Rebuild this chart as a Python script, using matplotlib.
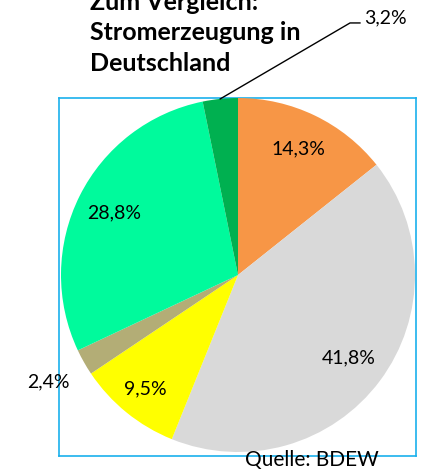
import numpy as np
import matplotlib
matplotlib.use('Agg')
import matplotlib.pyplot as plt

plt.rcParams['font.family'] = ['Lato', 'DejaVu Sans']

# Anteile an der Stromerzeugung (in %), im Uhrzeigersinn ab 12 Uhr
anteile = [14.3, 41.8, 9.5, 2.4, 28.8, 3.2]
farben = ['#F79646', '#D9D9D9', '#FFFF00', '#B3AD76', '#00FA9C', '#00B050']
titel = 'Zum Vergleich:\nStromerzeugung in\nDeutschland'
quelle = 'Quelle: BDEW'

W, H = 430, 474
fig = plt.figure(figsize=(W / 100, H / 100), dpi=100)

# Rahmen in Pixeln
x0, x1, y0, y1 = 59, 416, 98, 456
cx, cy, r = 238, 275, 177
ax = fig.add_axes([x0 / W, 1 - y1 / H, (x1 - x0) / W, (y1 - y0) / H])
ax.pie(anteile, colors=farben, startangle=90, counterclock=False,
       wedgeprops=dict(linewidth=0))
ax.set_xlim((x0 - cx) / r, (x1 - cx) / r)
ax.set_ylim((cy - y1) / r, (cy - y0) / r)
ax.set_aspect('auto')
ax.set_frame_on(True)
for s in ax.spines.values():
    s.set_visible(True)
    s.set_color('#1AB0EC')
    s.set_linewidth(1.2)
    s.set_zorder(0)
ax.set_xticks([])
ax.set_yticks([])

def fmt(v):
    return f'{v:.1f}%'.replace('.', ',')

cum = np.cumsum([0] + anteile[:-1])
mitte = np.radians(90 - (cum + np.array(anteile) / 2) * 3.6)
abstand = [0.79, 0.78, 0.83, 1.23, 0.78, None]
for v, a, d in zip(anteile, mitte, abstand):
    if d is None:
        continue
    ax.text(d * np.cos(a), d * np.sin(a), fmt(v), ha='center', va='center',
            fontsize=14, clip_on=False)

# 3,2% mit Führungslinie
a = mitte[-1]
p0 = (np.cos(a), np.sin(a))
p1 = (0.633, 1.424)
p2 = (0.689, 1.424)
ax.plot([p0[0], p1[0], p2[0]], [p0[1], p1[1], p2[1]], color='black', lw=1,
        clip_on=False)
ax.text(p2[0] + 0.025, p2[1] + 0.03, fmt(anteile[-1]), ha='left', va='center',
        fontsize=14, clip_on=False)

fig.text(90 / W, 1 - 33 / H, titel, ha='left', va='center', fontsize=18,
         fontweight='bold', linespacing=1.38)
fig.text(312 / W, 1 - 460 / H, quelle, ha='center', va='center', fontsize=15)

fig.savefig('out.png', dpi=100)
